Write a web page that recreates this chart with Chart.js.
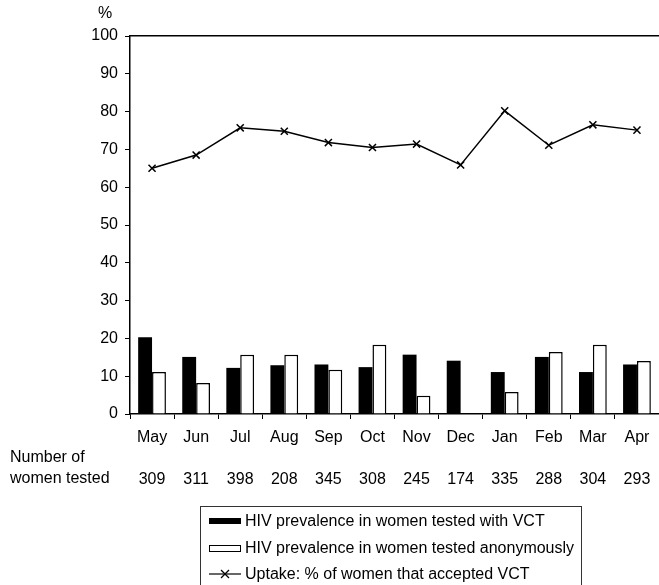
<!DOCTYPE html>
<html>
<head>
<meta charset="utf-8">
<script src="https://cdn.jsdelivr.net/npm/chart.js@4.4.1/dist/chart.umd.min.js"></script>
<style>
  body { margin: 0; background: #fff; font-family: 'Liberation Sans', Arial, sans-serif; color: #000; }
  #wrap { position: relative; width: 659px; height: 585px; overflow: hidden; }
  #chart { position: absolute; left: 0; top: 0; }
  .txt { position: absolute; font-size: 16px; line-height: 18px; white-space: nowrap; }
  #legend { position: absolute; left: 200px; top: 506px; width: 380px; height: 100px; border: 1px solid #333; }
  .row { position: absolute; left: 0; height: 18px; font-size: 16px; line-height: 18px; }
  .sw { position: absolute; left: 8px; }
  .lbl { position: absolute; left: 44px; top: 0; white-space: nowrap; }
</style>
</head>
<body>
<div id="wrap">
  <canvas id="chart" width="659" height="585"></canvas>
  <div class="txt" style="left:98px; top:4px;">%</div>
  <div class="txt" style="left:10px; top:448px;">Number of</div>
  <div class="txt" style="left:10px; top:469px;">women tested</div>
  <div id="legend">
    <div class="row" style="top:5px;">
      <div class="sw" style="top:6px; width:32px; height:6px; background:#000;"></div>
      <div class="lbl">HIV prevalence in women tested with VCT</div>
    </div>
    <div class="row" style="top:32px;">
      <div class="sw" style="top:6px; width:30px; height:5px; background:#fff; border:1px solid #000;"></div>
      <div class="lbl">HIV prevalence in women tested anonymously</div>
    </div>
    <div class="row" style="top:58px;">
      <svg class="sw" style="top:0;" width="34" height="18">
        <line x1="0" y1="9" x2="32" y2="9" stroke="#000" stroke-width="1.2"/>
        <line x1="12" y1="5" x2="20" y2="13" stroke="#000" stroke-width="1.2"/>
        <line x1="12" y1="13" x2="20" y2="5" stroke="#000" stroke-width="1.2"/>
      </svg>
      <div class="lbl">Uptake: % of women that accepted VCT</div>
    </div>
  </div>
</div>
<script>
var months = ['May', 'Jun', 'Jul', 'Aug', 'Sep', 'Oct', 'Nov', 'Dec', 'Jan', 'Feb', 'Mar', 'Apr']
var womenTested = ['309', '311', '398', '208', '345', '308', '245', '174', '335', '288', '304', '293']
var prevalenceVCT = [20.3, 15.1, 12.2, 12.9, 13.1, 12.4, 15.7, 14.1, 11.1, 15.1, 11.1, 13.1]
var prevalenceAnon = [11.1, 8.2, 15.7, 15.7, 11.7, 18.3, 4.8, 0, 5.8, 16.4, 18.3, 14.0]
var uptake = [65.0, 68.5, 75.7, 74.8, 71.8, 70.5, 71.4, 65.9, 80.2, 71.1, 76.5, 75.1]
var yTicks = [0, 100, 10]

Chart.defaults.font.family = "'Liberation Sans', Arial, sans-serif"
Chart.defaults.font.size = 16
Chart.defaults.color = '#000'

// x axes: no side padding so the plot runs to the right edge
function noSidePad(s) {
  s.paddingLeft = 0
  s.paddingRight = 0
}

var ctx = document.getElementById('chart')
var chart = new Chart(ctx, {
  type: 'bar',
  data: {
    labels: months,
    datasets: [{
      type: 'line',
      label: 'Uptake: % of women that accepted VCT',
      data: uptake,
      borderColor: '#000',
      borderWidth: 1.5,
      pointStyle: 'crossRot',
      pointRadius: 5,
      pointBorderWidth: 1.5,
      pointBorderColor: '#000',
      tension: 0,
      order: 0
    }, {
      label: 'HIV prevalence in women tested with VCT',
      data: prevalenceVCT,
      backgroundColor: '#000',
      borderColor: '#000',
      borderWidth: 0,
      categoryPercentage: 0.63,
      barPercentage: 1.0,
      order: 1
    }, {
      label: 'HIV prevalence in women tested anonymously',
      data: prevalenceAnon,
      backgroundColor: '#fff',
      borderColor: '#000',
      borderWidth: 1.5,
      borderSkipped: 'bottom',
      categoryPercentage: 0.63,
      barPercentage: 1.0,
      order: 1
    }]
  },
  options: {
    responsive: false,
    animation: false,
    layout: { padding: 0, autoPadding: false },
    plugins: { legend: { display: false }, tooltip: { enabled: false } },
    scales: {
      y: {
        min: yTicks[0],
        max: yTicks[1],
        ticks: { stepSize: yTicks[2], padding: 7 },
        grid: { drawOnChartArea: false, tickLength: 5, color: '#000', lineWidth: 1 },
        border: { color: '#000', width: 1.5 },
        afterFit: function (s) { s.width = 130 }
      },
      x: {
        weight: 0,
        offset: true,
        ticks: { padding: 9, maxRotation: 0, autoSkip: false },
        grid: { offset: true, drawOnChartArea: false, tickLength: 5, color: '#000', lineWidth: 1 },
        border: { color: '#000', width: 1.5 },
        afterFit: function (s) { s.height = 44; noSidePad(s) }
      },
      counts: {
        type: 'category',
        position: 'bottom',
        weight: 1,
        labels: womenTested,
        offset: true,
        ticks: { padding: 4, maxRotation: 0, autoSkip: false },
        grid: { display: false },
        border: { display: false },
        afterFit: function (s) { s.height = 127; noSidePad(s) }
      },
      top: {
        type: 'category',
        position: 'top',
        labels: months,
        ticks: { display: false },
        grid: { display: false },
        border: { color: '#000', width: 1.5 },
        afterFit: function (s) { s.height = 36; noSidePad(s) }
      }
    }
  }
})
</script>
</body>
</html>
